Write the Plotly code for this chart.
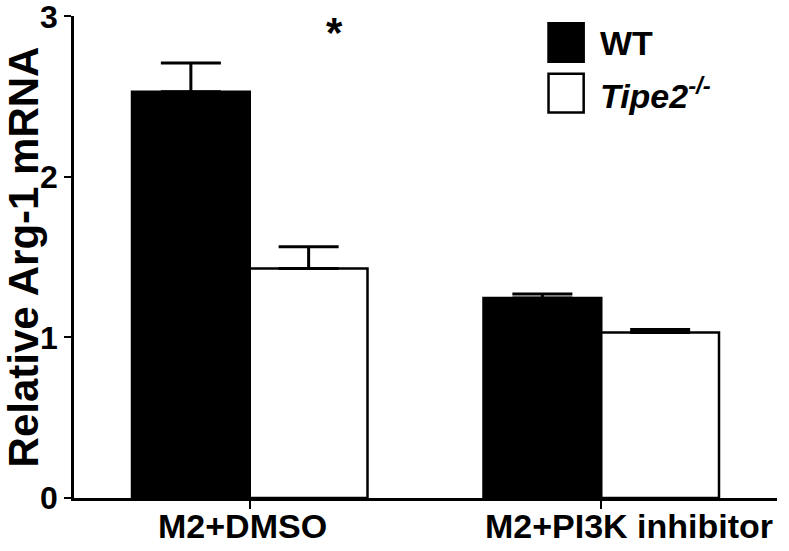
import plotly.graph_objects as go

groups = ['M2+DMSO', 'M2+PI3K inhibitor']
wt_mean = [2.53, 1.245]
wt_sem = [0.18, 0.025]
ko_mean = [1.43, 1.03]
ko_sem = [0.135, 0.02]
y_ticks = [0, 1, 2, 3]

FONT = 'Liberation Sans, Arial, sans-serif'

fig = go.Figure()
fig.add_trace(go.Bar(
    x=groups, y=wt_mean, name='WT',
    marker=dict(color='black', line=dict(color='black', width=2.5)),
    error_y=dict(type='data', array=wt_sem, arrayminus=[0, 0], symmetric=False,
                 color='black', thickness=3, width=30),
))
fig.add_trace(go.Bar(
    x=groups, y=ko_mean, name='Tipe2-/-',
    marker=dict(color='white', line=dict(color='black', width=2.5)),
    error_y=dict(type='data', array=ko_sem, arrayminus=[0, 0], symmetric=False,
                 color='black', thickness=3, width=30),
))

fig.update_layout(
    width=789, height=551,
    margin=dict(l=74, r=12, t=16, b=53, autoexpand=False),
    paper_bgcolor='white', plot_bgcolor='white',
    barmode='group', bargap=0.33, bargroupgap=0,
    showlegend=False,
    font=dict(family=FONT, color='black'),
)
fig.update_xaxes(
    type='category', range=[-0.5, 1.5], automargin=False,
    showline=True, linecolor='black', linewidth=2.5,
    ticks='outside', ticklen=8, tickwidth=2, tickcolor='black',
    showticklabels=False, showgrid=False, zeroline=False,
)
fig.update_yaxes(
    range=[0, 3.002], tickvals=y_ticks, automargin=False,
    ticklabeloverflow='allow',
    showline=True, linecolor='black', linewidth=2.5,
    ticks='outside', ticklen=7, tickwidth=2, tickcolor='black',
    tickfont=dict(size=32, family=FONT, weight='bold'),
    showgrid=False, zeroline=False,
    title=dict(text='<b>Relative Arg-1 mRNA</b>', font=dict(size=42, family=FONT), standoff=3),
)

# category labels below the axis
for g, dx in zip(groups, [-7, 28]):
    fig.add_annotation(x=g, y=0, xref='x', yref='paper', text='<b>%s</b>' % g,
                       showarrow=False, yanchor='middle', yshift=-28, xshift=dx,
                       font=dict(size=34, family=FONT))

# significance mark
fig.add_annotation(x=0.24, y=2.9, xref='x', yref='y', text='<b>*</b>', showarrow=False,
                   yanchor='middle', font=dict(size=42, family=FONT))

# legend drawn by hand (large square keys)
legend_items = [('WT', 'black', '<b>WT</b>'),
                ('Tipe2', 'white', '<b><i>Tipe2</i></b><sup><b><i>-/-</i></b></sup>')]
for i, (key, col, label) in enumerate(legend_items):
    y0 = 0.905 - i * 0.105
    fig.add_shape(type='rect', xref='paper', yref='paper',
                  x0=0.675, x1=0.725, y0=y0, y1=y0 + 0.08,
                  fillcolor=col, line=dict(color='black', width=2.5))
    fig.add_annotation(xref='paper', yref='paper', x=0.745, y=y0 + 0.04,
                       xanchor='left', yanchor='middle', text=label, showarrow=False,
                       font=dict(size=34, family=FONT))

# page body has a default 8px margin; drop it so the figure fills the window
fig.write_html('out.html', config={'displayModeBar': False},
               post_script="document.body.style.margin='0';")
